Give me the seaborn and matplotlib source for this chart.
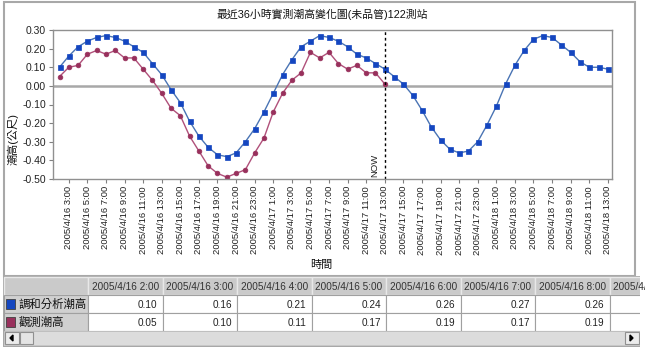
import pandas as pd
import matplotlib.pyplot as plt
import matplotlib.patches as mpatches
import seaborn as sns

# Style
sns.set_theme(style="white")
plt.rcParams['font.family'] = ['Liberation Sans', 'Noto Sans CJK TC', 'DejaVu Sans']
plt.rcParams['axes.unicode_minus'] = False

W, H = 645, 353

title = '最近36小時實測潮高變化圖(未品管)122測站'
series_names = ['調和分析潮高', '觀測潮高']
start_time = '2005-04-16 02:00'
now_index = 35

# harmonic (predicted) tide, hourly from 2005/4/16 2:00 to 2005/4/18 13:00
tide_pred = [0.10, 0.16, 0.21, 0.24, 0.26, 0.27, 0.26, 0.24, 0.21, 0.18,
             0.12, 0.06, -0.02, -0.09, -0.19, -0.27, -0.33, -0.37, -0.38, -0.36,
             -0.30, -0.23, -0.14, -0.04, 0.06, 0.14, 0.21, 0.24, 0.27, 0.26,
             0.24, 0.21, 0.17, 0.15, 0.12, 0.09, 0.05, 0.01, -0.05, -0.13,
             -0.22, -0.29, -0.34, -0.36, -0.35, -0.30, -0.21, -0.11, 0.01, 0.11,
             0.19, 0.25, 0.27, 0.26, 0.22, 0.18, 0.13, 0.10, 0.10, 0.09]
# observed tide, hourly from 2005/4/16 2:00 to 2005/4/17 13:00 (NOW)
tide_obs = [0.05, 0.10, 0.11, 0.17, 0.19, 0.17, 0.19, 0.15, 0.15, 0.09,
            0.03, -0.04, -0.12, -0.16, -0.27, -0.35, -0.43, -0.47, -0.49, -0.47,
            -0.45, -0.36, -0.28, -0.14, -0.04, 0.03, 0.07, 0.18, 0.15, 0.18,
            0.12, 0.09, 0.11, 0.07, 0.07, 0.01]

times = pd.date_range(start_time, periods=len(tide_pred), freq='h')
labels = [f"{t.year}/{t.month}/{t.day} {t.hour}:00" for t in times]

df = pd.concat([
    pd.DataFrame({'idx': range(len(tide_pred)), 'value': tide_pred, 'series': series_names[0]}),
    pd.DataFrame({'idx': range(len(tide_obs)), 'value': tide_obs, 'series': series_names[1]}),
])

line_colors = {series_names[0]: '#4a74b4', series_names[1]: '#b0507a'}
marker_colors = {series_names[0]: '#1446c0', series_names[1]: '#98305c'}
markers = {series_names[0]: 's', series_names[1]: 'o'}
msizes = {series_names[0]: 3.6, series_names[1]: 3.4}


def px(x0, y0, x1, y1):
    # pixel box -> figure fraction rect
    return [x0 / W, 1 - y1 / H, (x1 - x0) / W, (y1 - y0) / H]


fig = plt.figure(figsize=(W / 100, H / 100), dpi=100)

# background / frames
bg = fig.add_axes([0, 0, 1, 1])
bg.set_xlim(0, W)
bg.set_ylim(H, 0)
bg.axis('off')
bg.add_patch(mpatches.Rectangle((4, 2), 631, 274, fill=False, ec='#a8a8a8', lw=1.5))

# main chart
ax = fig.add_axes(px(53, 30, 612, 179))
for name in series_names:
    sub = df[df['series'] == name]
    sns.lineplot(data=sub, x='idx', y='value', ax=ax, color=line_colors[name],
                 lw=1.0, marker=markers[name], markersize=msizes[name],
                 markerfacecolor=marker_colors[name], markeredgecolor=marker_colors[name],
                 markeredgewidth=0.5, sort=False, legend=False)

ax.axhline(0, color='#a8a8a8', lw=1.8, zorder=0)
ax.axvline(now_index, color='black', lw=1.0, ls=(0, (2, 2)))
ax.text(now_index - 0.55, -0.49, 'NOW', rotation=90, ha='right', va='bottom',
        fontsize=6.8, color='#222222')

ax.set_xlim(-0.7, len(tide_pred) - 0.55)
ax.set_ylim(-0.5, 0.3)
yt = [-0.5, -0.4, -0.3, -0.2, -0.1, 0.0, 0.1, 0.2, 0.3]
ax.set_yticks(yt)
ax.set_yticklabels([f"{v:.2f}" if abs(v) > 1e-9 else "0.00" for v in yt], fontsize=7.5, color='#222222')
xt = list(range(1, len(tide_pred), 2))
ax.set_xticks(xt)
ax.set_xticklabels([labels[i] for i in xt], rotation=90, fontsize=6.8, color='#222222')
ax.tick_params(axis='both', direction='out', length=3, width=0.8, color='#808080', pad=2,
               left=True, bottom=True)
ax.set_xlabel('')
ax.set_ylabel('')
for s in ax.spines.values():
    s.set_color('#909090')
    s.set_linewidth(1.0)

fig.text(322 / W, 1 - 14 / H, title, ha='center', va='center', fontsize=7.8, color='#111111')
fig.text(13 / W, 1 - 139 / H, '潮高(公尺)', rotation=90, ha='center', va='center', fontsize=8, color='#111111')
fig.text(321 / W, 1 - 265 / H, '時間', ha='center', va='center', fontsize=8, color='#111111')

# data table below
tx0, ty0, tx1, ty1 = 3, 276, 640, 347
tab = fig.add_axes(px(tx0, ty0, tx1, ty1))
tab.set_xlim(tx0, tx1)
tab.set_ylim(ty1, ty0)
tab.axis('off')
tab.add_patch(mpatches.Rectangle((tx0, ty0), tx1 - tx0, ty1 - ty0, fc='white', ec='#a8a8a8', lw=1.5))

rows_y = [(277, 295), (295, 313), (313, 331)]
col_x = [(4, 88)] + [(88 + 74.5 * k, 88 + 74.5 * (k + 1)) for k in range(8)]
grid_c = '#a0a0a0'
# header row
for j, (c0, c1) in enumerate(col_x):
    tab.add_patch(mpatches.Rectangle((c0, 277), c1 - c0, 18, fc='#cacaca', ec='#e8e8e8', lw=1, clip_on=True))
    if j > 0:
        t = tab.text((c0 + c1) / 2, 286.5, labels[j - 1], ha='center', va='center', fontsize=7.2,
                     color='#333333')
        t.set_clip_path(mpatches.Rectangle((4, 277), 635, 55, transform=tab.transData))
# value rows
for r, (name, vals) in enumerate(zip(series_names, [tide_pred, tide_obs])):
    y0, y1 = rows_y[r + 1]
    for j, (c0, c1) in enumerate(col_x):
        fc = '#d0d0d0' if j == 0 else 'white'
        tab.add_patch(mpatches.Rectangle((c0, y0), c1 - c0, y1 - y0, fc=fc, ec=grid_c, lw=0.8, clip_on=True))
        if j > 0 and j - 1 < 7:
            tab.text(c1 - 5, (y0 + y1) / 2 + 0.5, f"{vals[j - 1]:.2f}", ha='right', va='center',
                     fontsize=7.2, color='#222222')
    tab.add_patch(mpatches.Rectangle((6, y0 + 4), 9, 9.5, fc=marker_colors[name], ec='#404040', lw=0.6))
    tab.text(19, (y0 + y1) / 2 + 0.5, name, ha='left', va='center', fontsize=8.2, color='#111111')

# scroll bar
tab.add_patch(mpatches.Rectangle((4, 331), 636, 14, fc='#dcdcdc', ec='#c0c0c0', lw=0.6))
tab.add_patch(mpatches.Rectangle((5, 332), 14, 12, fc='#ececec', ec='#909090', lw=0.8))
tab.add_patch(mpatches.Rectangle((20, 332), 13, 12, fc='#e4e4e4', ec='#909090', lw=0.8))
tab.add_patch(mpatches.Rectangle((625, 332), 14, 12, fc='#ececec', ec='#909090', lw=0.8))
tab.fill([10, 13, 13], [338, 335, 341], color='black')
tab.fill([630, 633, 630], [335, 338, 341], color='black')

fig.savefig('out.png', dpi=100)
